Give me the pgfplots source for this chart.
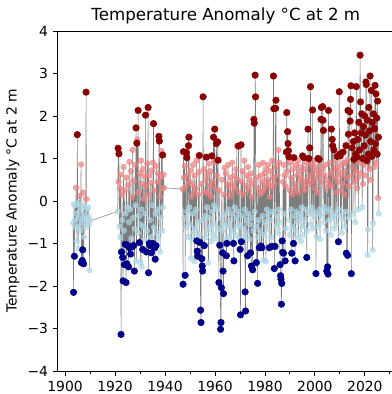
\documentclass[border=0pt]{standalone}
\usepackage{pgfplots}
\usepackage{pgfplotstable}
\pgfplotsset{compat=1.18}
\usepackage{fontspec}
\setmainfont{DejaVu Sans}

\definecolor{hotdark}{RGB}{139,0,0}
\definecolor{hotlight}{RGB}{240,128,128}
\definecolor{coldlight}{RGB}{173,216,230}
\definecolor{colddark}{RGB}{0,0,139}

% x = decimal year, y = anomaly, c = class (0 cold extreme, 1 cold, 2 warm, 3 warm extreme)
\pgfplotstableread{
x y c
1903.25 -0.52 1
1903.42 -2.15 0
1903.58 -0.08 1
1903.75 -1.30 0
1903.92 -0.45 1
1904.08 -0.10 1
1904.25 -0.62 1
1904.42 0.31 2
1904.58 -0.30 1
1904.75 -0.95 1
1904.92 1.56 3
1905.08 -0.05 1
1905.25 -1.12 1
1905.42 -0.40 1
1905.58 -0.60 1
1905.75 0.12 2
1905.92 -0.25 1
1906.08 -0.70 1
1906.25 -0.15 1
1906.42 0.86 2
1906.58 -1.45 0
1906.75 -0.50 1
1906.92 -1.40 0
1907.08 -1.15 0
1907.25 0.20 2
1907.42 -1.48 0
1907.58 -0.85 1
1907.75 -0.12 1
1907.92 -0.42 1
1908.08 -0.35 1
1908.25 -0.62 1
1908.42 2.56 3
1908.58 0.05 2
1908.75 -0.40 1
1908.92 -0.20 1
1909.08 -0.48 1
1909.25 -0.15 1
1909.42 -0.55 1
1909.58 -0.38 1
1909.75 -1.63 1
1909.92 -0.47 1
1921.08 -0.25 1
1921.25 1.24 3
1921.42 0.45 2
1921.58 1.11 3
1921.75 -0.60 1
1921.92 0.30 2
1922.08 -0.85 1
1922.25 0.62 2
1922.42 -3.14 0
1922.58 -1.20 0
1922.75 0.15 2
1922.92 -0.45 1
1923.08 -1.33 0
1923.25 -1.88 0
1923.42 0.80 2
1923.58 -0.70 1
1923.75 -1.50 0
1923.92 0.25 2
1924.08 -1.02 0
1924.25 -0.30 1
1924.42 -1.92 0
1924.58 0.55 2
1924.75 -1.48 0
1924.92 -0.15 1
1925.08 -1.05 0
1925.25 0.38 2
1925.42 -1.55 0
1925.58 -0.50 1
1925.75 0.92 2
1925.92 -1.10 0
1926.08 -0.20 1
1926.25 -1.25 0
1926.42 0.70 2
1926.58 -0.88 1
1926.75 0.10 2
1926.92 -1.08 0
1927.08 1.20 2
1927.25 -0.40 1
1927.42 -1.05 0
1927.58 0.48 2
1927.75 -1.65 0
1927.92 -0.65 1
1928.08 0.85 2
1928.25 -0.10 1
1928.42 1.72 3
1928.58 -1.41 1
1928.75 1.36 3
1928.92 1.45 2
1929.08 -0.75 1
1929.25 2.13 3
1929.42 0.20 2
1929.58 -0.35 1
1929.75 -0.98 0
1929.92 0.65 2
1930.08 -0.55 1
1930.25 -1.45 1
1930.42 0.95 2
1930.58 -0.20 1
1930.75 -1.55 1
1930.92 0.40 2
1931.08 -1.14 0
1931.25 0.75 2
1931.42 -0.60 1
1931.58 0.05 2
1931.75 -0.92 1
1931.92 0.58 2
1932.08 -0.30 1
1932.25 2.02 3
1932.42 0.35 2
1932.58 -1.20 0
1932.75 -0.70 1
1932.92 0.88 2
1933.08 0.15 2
1933.25 2.20 3
1933.42 -1.69 0
1933.58 0.60 2
1933.75 -1.00 0
1933.92 -0.45 1
1934.08 -1.05 0
1934.25 0.42 2
1934.42 -0.85 1
1934.58 -1.22 0
1934.75 0.72 2
1934.92 -0.10 1
1935.08 -1.00 0
1935.25 0.90 2
1935.42 1.82 3
1935.58 -0.62 1
1935.75 0.25 2
1935.92 -1.10 0
1936.08 -1.37 0
1936.25 -0.30 1
1936.42 -1.05 0
1936.58 0.82 2
1936.75 -0.75 1
1936.92 0.45 2
1937.08 -0.20 1
1937.25 0.65 2
1937.42 -0.90 1
1937.58 1.52 3
1937.75 1.41 3
1937.92 0.10 2
1938.08 -1.20 1
1938.25 0.55 2
1938.42 -0.40 1
1938.58 1.18 2
1938.75 0.30 2
1938.92 -0.70 1
1939.08 1.08 3
1939.25 -0.15 1
1939.42 0.62 2
1939.58 0.31 2
1947.08 0.28 2
1947.25 -1.96 0
1947.42 1.16 3
1947.58 0.55 2
1947.75 -0.40 1
1947.92 0.82 2
1948.08 -1.75 0
1948.25 0.35 2
1948.42 -0.62 1
1948.58 1.14 3
1948.75 1.02 3
1948.92 -0.25 1
1949.08 0.60 2
1949.25 -0.85 1
1949.42 1.30 3
1949.58 1.50 3
1949.75 -0.15 1
1949.92 0.45 2
1950.08 -0.55 1
1950.25 0.72 2
1950.42 -1.35 1
1950.58 0.10 2
1950.75 -0.90 1
1950.92 0.38 2
1951.08 -0.30 1
1951.25 0.85 2
1951.42 -0.75 1
1951.58 0.20 2
1951.75 -1.42 1
1951.92 0.60 2
1952.08 -0.65 1
1952.25 0.30 2
1952.42 -0.20 1
1952.58 0.95 2
1952.75 -0.94 0
1952.92 -1.18 0
1953.08 -1.30 0
1953.25 0.15 2
1953.42 -0.50 1
1953.58 0.68 2
1953.75 1.07 3
1953.92 -0.80 1
1954.08 -0.98 0
1954.25 -2.57 0
1954.42 -2.86 0
1954.58 0.40 2
1954.75 -1.36 0
1954.92 -1.53 0
1955.08 -1.65 0
1955.25 2.45 3
1955.42 -0.45 1
1955.58 0.75 2
1955.75 -1.05 0
1955.92 0.22 2
1956.08 -0.35 1
1956.25 0.50 2
1956.42 -0.85 1
1956.58 1.03 3
1956.75 -0.15 1
1956.92 0.62 2
1957.08 -0.70 1
1957.25 0.18 2
1957.42 -1.45 1
1957.58 0.88 2
1957.75 -0.40 1
1957.92 0.35 2
1958.08 0.70 2
1958.25 -0.60 1
1958.42 0.10 2
1958.58 -0.95 1
1958.75 1.06 3
1958.92 -0.25 1
1959.08 0.45 2
1959.25 -0.80 1
1959.42 1.50 3
1959.58 -0.10 1
1959.75 0.92 2
1959.92 1.69 3
1960.08 -0.55 1
1960.25 0.30 2
1960.42 -0.88 1
1960.58 1.35 3
1960.75 0.60 2
1960.92 -0.20 1
1961.08 1.39 3
1961.25 0.96 3
1961.42 -0.65 1
1961.58 -1.92 0
1961.75 0.25 2
1961.92 -1.04 0
1962.08 -0.40 1
1962.25 -3.02 0
1962.42 -2.86 0
1962.58 -2.04 0
1962.75 0.50 2
1962.92 -0.70 1
1963.08 -1.22 0
1963.25 -1.65 0
1963.42 -2.18 0
1963.58 0.15 2
1963.75 -0.55 1
1963.92 0.78 2
1964.08 -0.30 1
1964.25 0.65 2
1964.42 -0.90 1
1964.58 -1.29 0
1964.75 -1.00 0
1964.92 0.40 2
1965.08 -0.60 1
1965.25 0.85 2
1965.42 -0.20 1
1965.58 0.35 2
1965.75 -0.85 1
1965.92 0.10 2
1966.08 -0.45 1
1966.25 0.55 2
1966.42 -0.95 1
1966.58 0.20 2
1966.75 -0.30 1
1966.92 0.90 2
1967.08 -0.70 1
1967.25 0.40 2
1967.42 -1.00 0
1967.58 -1.41 0
1967.75 0.60 2
1967.92 -0.15 1
1968.08 0.30 2
1968.25 -0.80 1
1968.42 0.75 2
1968.58 -0.40 1
1968.75 1.30 2
1968.92 -0.60 1
1969.08 0.50 2
1969.25 -0.25 1
1969.42 1.29 3
1969.58 -0.90 1
1969.75 0.20 2
1969.92 -0.55 1
1970.08 -1.14 0
1970.25 -2.68 0
1970.42 1.32 3
1970.58 -0.96 0
1970.75 0.45 2
1970.92 -0.35 1
1971.08 0.70 2
1971.25 -0.65 1
1971.42 0.15 2
1971.58 -0.85 1
1971.75 0.95 2
1971.92 -0.20 1
1972.08 -2.14 0
1972.25 -2.59 0
1972.42 0.35 2
1972.58 -0.75 1
1972.75 0.60 2
1972.92 -0.45 1
1973.08 -1.29 0
1973.25 0.80 2
1973.42 -0.30 1
1973.58 0.25 2
1973.75 -0.90 1
1973.92 0.50 2
1974.08 -0.55 1
1974.25 -1.22 0
1974.42 0.65 2
1974.58 -1.53 0
1974.75 0.10 2
1974.92 -0.40 1
1975.08 -1.62 0
1975.25 0.40 2
1975.42 -0.70 1
1975.58 1.92 3
1975.75 1.83 3
1975.92 -0.25 1
1976.08 2.96 3
1976.25 2.45 3
1976.42 -0.60 1
1976.58 -1.45 0
1976.75 0.55 2
1976.92 -0.85 1
1977.08 -1.94 0
1977.25 0.30 2
1977.42 -0.45 1
1977.58 0.85 2
1977.75 -1.10 0
1977.92 0.15 2
1978.08 -0.70 1
1978.25 0.60 2
1978.42 -1.06 0
1978.58 0.20 2
1978.75 -1.10 0
1978.92 0.45 2
1979.08 -0.35 1
1979.25 0.90 2
1979.42 -1.40 1
1979.58 0.25 2
1979.75 -0.80 1
1979.92 0.65 2
1980.08 -0.50 1
1980.25 0.35 2
1980.42 -1.42 1
1980.58 0.75 2
1980.75 -0.20 1
1980.92 0.50 2
1981.08 -0.65 1
1981.25 0.85 2
1981.42 -0.30 1
1981.58 0.40 2
1981.75 -1.10 0
1981.92 0.10 2
1982.08 -0.45 1
1982.25 0.70 2
1982.42 -0.85 1
1982.58 0.30 2
1982.75 -1.07 0
1982.92 0.95 2
1983.08 -0.25 1
1983.25 0.55 2
1983.42 2.94 3
1983.58 2.17 3
1983.75 -1.59 0
1983.92 0.40 2
1984.08 -1.07 0
1984.25 2.18 3
1984.42 2.37 3
1984.58 -0.60 1
1984.75 0.80 2
1984.92 -0.35 1
1985.08 0.60 2
1985.25 -0.75 1
1985.42 1.20 2
1985.58 -0.20 1
1985.75 0.90 2
1985.92 -0.50 1
1986.08 -1.50 0
1986.25 -1.76 0
1986.42 -1.84 0
1986.58 -2.43 0
1986.75 -1.94 0
1986.92 -0.94 0
1987.08 -1.21 0
1987.25 0.45 2
1987.42 -1.23 0
1987.58 0.85 2
1987.75 -0.30 1
1987.92 0.60 2
1988.08 -1.41 0
1988.25 0.35 2
1988.42 -0.65 1
1988.58 1.15 3
1988.75 2.08 3
1988.92 0.70 2
1989.08 1.63 3
1989.25 1.35 3
1989.42 1.18 3
1989.58 1.04 3
1989.75 -0.45 1
1989.92 0.25 2
1990.08 -0.80 1
1990.25 0.90 2
1990.42 -0.20 1
1990.58 0.55 2
1990.75 -1.23 0
1990.92 0.15 2
1991.08 -0.60 1
1991.25 0.75 2
1991.42 -1.00 0
1991.58 1.02 3
1991.75 -0.35 1
1991.92 0.40 2
1992.08 -1.41 0
1992.25 0.30 2
1992.42 -0.70 1
1992.58 0.85 2
1992.75 -0.25 1
1992.92 0.60 2
1993.08 -0.50 1
1993.25 0.95 2
1993.42 -0.85 1
1993.58 0.20 2
1993.75 -0.40 1
1993.92 0.70 2
1994.08 -0.30 1
1994.25 0.55 2
1994.42 -0.95 1
1994.58 0.80 2
1994.75 -0.15 1
1994.92 0.45 2
1995.08 1.06 3
1995.25 -0.60 1
1995.42 0.35 2
1995.58 1.02 3
1995.75 -0.80 1
1995.92 0.25 2
1996.08 -0.45 1
1996.25 0.75 2
1996.42 -0.20 1
1996.58 0.90 2
1996.75 -1.33 0
1996.92 0.50 2
1997.08 -0.70 1
1997.25 1.69 3
1997.42 0.40 2
1997.58 1.00 3
1997.75 -0.30 1
1997.92 1.25 3
1998.08 0.60 2
1998.25 2.69 3
1998.42 -0.55 1
1998.58 0.85 2
1998.75 -0.15 1
1998.92 0.45 2
1999.08 2.14 3
1999.25 -0.65 1
1999.42 0.70 2
1999.58 -0.25 1
1999.75 0.95 2
1999.92 0.30 2
2000.08 -0.40 1
2000.25 0.55 2
2000.42 -1.71 0
2000.58 0.80 2
2000.75 -0.85 1
2000.92 0.20 2
2001.08 -0.30 1
2001.25 1.00 3
2001.42 -0.60 1
2001.58 0.65 2
2001.75 0.98 3
2001.92 -0.20 1
2002.08 -0.90 1
2002.25 0.45 2
2002.42 1.92 3
2002.58 2.20 3
2002.75 -0.35 1
2002.92 0.75 2
2003.08 2.22 3
2003.25 1.90 3
2003.42 1.66 3
2003.58 -0.50 1
2003.75 0.60 2
2003.92 -0.15 1
2004.08 0.85 2
2004.25 -0.70 1
2004.42 0.30 2
2004.58 -0.25 1
2004.75 -1.65 0
2004.92 0.50 2
2005.08 -1.55 0
2005.25 -1.72 0
2005.42 2.13 3
2005.58 0.40 2
2005.75 -0.45 1
2005.92 0.90 2
2006.08 -0.20 1
2006.25 0.65 2
2006.42 -0.80 1
2006.58 1.69 3
2006.75 0.35 2
2006.92 1.45 3
2007.08 1.30 3
2007.25 -0.40 1
2007.42 0.75 2
2007.58 1.20 3
2007.75 -0.65 1
2007.92 0.55 2
2008.08 -0.30 1
2008.25 0.95 2
2008.42 0.20 2
2008.58 -0.55 1
2008.75 0.80 2
2008.92 1.05 3
2009.08 0.45 2
2009.25 -0.20 1
2009.42 -0.96 0
2009.58 0.70 2
2009.75 2.57 3
2009.92 1.10 3
2010.08 1.06 3
2010.25 -0.35 1
2010.42 0.60 2
2010.58 0.25 2
2010.75 -0.75 1
2010.92 0.85 2
2011.08 0.40 2
2011.25 1.15 3
2011.42 -0.45 1
2011.58 0.90 2
2011.75 0.15 2
2011.92 -0.60 1
2012.08 0.70 2
2012.25 -0.25 1
2012.42 1.30 3
2012.58 -1.23 0
2012.75 0.55 2
2012.92 0.95 2
2013.08 -1.28 0
2013.25 2.13 3
2013.42 1.57 3
2013.58 0.35 2
2013.75 -0.40 1
2013.92 2.10 3
2014.08 1.88 3
2014.25 2.39 3
2014.42 2.71 3
2014.58 -1.71 0
2014.75 0.60 2
2014.92 1.25 3
2015.08 0.80 2
2015.25 -0.30 1
2015.42 1.40 3
2015.58 0.98 3
2015.75 0.45 2
2015.92 1.60 3
2016.08 -0.50 1
2016.25 1.10 3
2016.42 0.70 2
2016.58 2.69 3
2016.75 1.03 3
2016.92 0.30 2
2017.08 1.45 3
2017.25 0.55 2
2017.42 -0.20 1
2017.58 1.85 3
2017.75 0.90 2
2017.92 1.20 3
2018.08 3.43 3
2018.25 2.33 3
2018.42 0.65 2
2018.58 1.60 3
2018.75 2.05 3
2018.92 -0.15 1
2019.08 1.00 3
2019.25 0.40 2
2019.42 1.75 3
2019.58 0.85 2
2019.75 1.30 3
2019.92 2.00 3
2020.08 0.60 2
2020.25 1.55 3
2020.42 2.80 3
2020.58 2.74 3
2020.75 0.95 3
2020.92 1.90 3
2021.08 -1.27 1
2021.25 -0.67 1
2021.42 1.10 3
2021.58 2.20 3
2021.75 0.75 2
2021.92 1.65 3
2022.08 2.94 3
2022.25 1.40 3
2022.42 0.50 2
2022.58 2.60 3
2022.75 1.05 3
2022.92 1.85 3
2023.08 -1.15 1
2023.25 -0.52 1
2023.42 2.05 3
2023.58 1.20 3
2023.75 0.80 2
2023.92 1.70 3
2024.08 2.72 3
2024.25 1.35 3
2024.42 2.52 3
2024.58 0.90 2
2024.75 1.95 3
2024.92 1.10 3
2025.08 2.35 3
2025.25 0.07 2
2025.42 1.50 3
2025.58 -0.30 1
}\anomaly

\begin{document}
\begin{tikzpicture}
\begin{axis}[
  scale only axis,
  width=242pt, height=244.8pt,
  xmin=1897.1, xmax=2031.6,
  ymin=-4, ymax=4,
  xtick={1900,1920,1940,1960,1980,2000,2020},
  xticklabels={1900,1920,1940,1960,1980,2000,2020},
  minor xtick={1910,1930,1950,1970,1990,2010,2030},
  ytick={-4,-3,-2,-1,0,1,2,3,4},
  yticklabels={−4,−3,−2,−1,0,1,2,3,4},
  tick align=outside,
  xtick pos=left, ytick pos=left,
  major tick length=3.5pt,
  minor tick length=2pt,
  every tick/.style={black, line width=0.6pt},
  axis line style={black, line width=0.6pt},
  tick label style={font=\fontsize{10}{12}\selectfont},
  every axis title shift=0pt,
  title={Temperature Anomaly °C at 2 m},
  title style={font=\fontsize{12}{14}\selectfont, at={(axis description cs:0.5,1)}, anchor=base, yshift=7.2pt},
  ylabel={Temperature Anomaly °C at 2 m},
  ylabel style={font=\fontsize{10}{12}\selectfont, at={(axis description cs:-0.1335,0.5)}, anchor=center},
  clip=false,
]
% mild values
\addplot[only marks, mark=*, mark size=2pt, draw=coldlight, fill=coldlight, opacity=0.7,
  restrict expr to domain={\thisrow{c}}{1:1}] table[x=x, y=y] {\anomaly};
\addplot[only marks, mark=*, mark size=2pt, draw=hotlight, fill=hotlight, opacity=0.7,
  restrict expr to domain={\thisrow{c}}{2:2}] table[x=x, y=y] {\anomaly};
% the running series
\addplot[no markers, black!85, opacity=0.6, line width=0.35pt] table[x=x, y=y] {\anomaly};
% extremes
\addplot[only marks, mark=*, mark size=2.35pt, draw=colddark, fill=colddark,
  restrict expr to domain={\thisrow{c}}{0:0}] table[x=x, y=y] {\anomaly};
\addplot[only marks, mark=*, mark size=2.35pt, draw=hotdark, fill=hotdark,
  restrict expr to domain={\thisrow{c}}{3:3}] table[x=x, y=y] {\anomaly};
\end{axis}
\pgfresetboundingbox
\path[use as bounding box] ([shift={(-41.6pt,-16.6pt)}]current axis.south west) rectangle ([shift={(240.6pt,22.3pt)}]current axis.north west);
\end{tikzpicture}
\end{document}
